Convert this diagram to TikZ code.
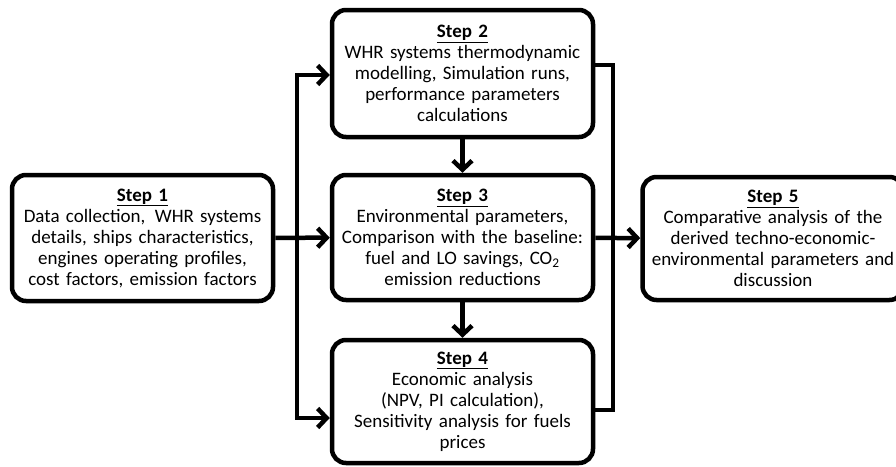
\documentclass[tikz,border=0pt]{standalone}
\usepackage{fontspec}
\setmainfont{Carlito}
\usetikzlibrary{positioning, calc, arrows.meta}

\begin{document}
\begin{tikzpicture}[x=1pt, y=-1pt, >={Straight Barb[length=9pt, width=19pt]},
	stepbox/.style={draw, line width=4.5pt, rounded corners=14pt, minimum width=261pt,
		text width=254pt, align=center, inner sep=0pt, font=\fontsize{19}{21}\selectfont},
	link/.style={line width=4.5pt}]
	\useasboundingbox (0, 0) rectangle (896, 466);
	% the five steps
	\node[stepbox, minimum height=126pt] (s1) at (142.5, 238) {\underline{\textbf{Step 1}}\\Data collection,\, WHR systems\\details, ships characteristics,\\engines operating profiles,\\cost factors, emission factors};
	\node[stepbox, minimum height=127pt] (s2) at (462.5, 73.5) {\underline{\textbf{Step 2}}\\WHR systems thermodynamic\\modelling, Simulation runs,\\performance parameters\\calculations};
	\node[stepbox, minimum height=125pt] (s3) at (462.5, 237.5) {\underline{\textbf{Step 3}}\\Environmental parameters,\\Comparison with the baseline:\\fuel and LO savings, CO\textsubscript{2}\\emission reductions};
	\node[stepbox, minimum height=123pt] (s4) at (462.5, 401.5) {\underline{\textbf{Step 4}}\\Economic analysis\\(NPV, PI calculation),\\Sensitivity analysis for fuels\\prices};
	\node[stepbox, minimum height=123pt, text width=256pt] (s5) at (773, 238.5) {\underline{\textbf{Step 5}}\\Comparative analysis of the\\derived techno-economic-\\environmental parameters and\\discussion};
	% left bus
	\coordinate (busL) at (297, 238);
	\draw[link, ->] (s1) -- (s3);
	\draw[link, ->] (busL) |- ([yshift=-1.5pt]s2.west);
	\draw[link, ->] (busL) |- ([yshift=-16.5pt]s4.west);
	% middle column
	\draw[link, ->] (s2) -- (s3);
	\draw[link, ->] (s3) -- (s4);
	% right bus
	\coordinate (busR) at (613, 238);
	\draw[link] ([yshift=8.5pt]s2.east) -| (busR) |- ([yshift=-8.5pt]s4.east);
	\draw[link, ->] (s3) -- (s5);
\end{tikzpicture}
\end{document}
